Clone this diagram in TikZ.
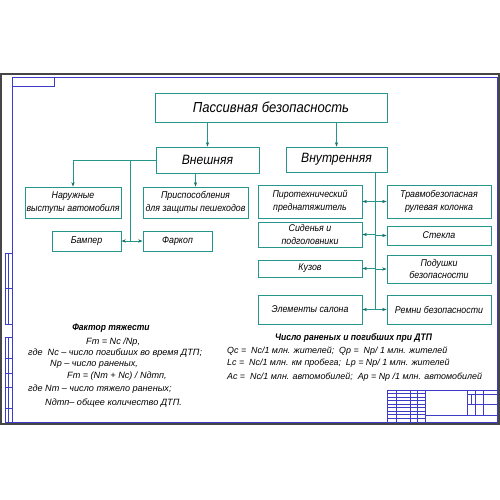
\documentclass[tikz,border=0pt]{standalone}
\usepackage{fontspec}
\setmainfont{Liberation Sans}
\newfontfamily\gost{Liberation Sans}[FakeStretch=0.9]
\usetikzlibrary{arrows.meta}
\definecolor{tealc}{RGB}{38,150,140}
\definecolor{arrc}{RGB}{20,110,105}
\definecolor{framec}{RGB}{60,60,200}
\definecolor{outerc}{RGB}{70,70,70}
\tikzset{
 bx/.style={draw=tealc, line width=0.8pt, inner sep=0pt, align=center, font=\gost\fontsize{9.8}{12.5}\selectfont\itshape},
 arr/.style={draw=tealc, line width=0.8pt, -{Stealth[length=4.5pt,width=3.2pt,color=arrc]}},
 ln/.style={draw=tealc, line width=0.8pt},
 frm/.style={draw=framec, line width=0.8pt},
 thn/.style={draw=framec, line width=0.4pt},
 txt/.style={anchor=west, inner sep=0pt, font=\fontsize{9.1}{10}\selectfont\itshape},
 rtxt/.style={anchor=west, inner sep=0pt, font=\fontsize{8.9}{10}\selectfont\itshape},
 hd/.style={anchor=center, inner sep=0pt, font=\gost\fontsize{9.5}{10}\selectfont\bfseries\itshape},
}
\begin{document}
\begin{tikzpicture}[x=1pt,y=-1pt]
\fill[white] (0,0) rectangle (500,500);
\useasboundingbox (0,0) rectangle (500,500);
% sheet frame
\draw[outerc, line width=1.2pt] (1,74) rectangle (499,424);
\draw[frm] (12,77) rectangle (497,422);
\draw[frm] (12,86) -- (54,86) -- (54,77);
% left strip
\draw[frm] (5,253) rectangle (12,324);
\draw[frm] (5,288) -- (12,288);
\draw[thn] (8,253) -- (8,324);
\draw[frm] (5,337) rectangle (12,422);
\foreach \yy in {358,373,387,408} \draw[frm] (5,\yy) -- (12,\yy);
\draw[thn] (8,337) -- (8,422);
% title block
\draw[frm] (387,390) rectangle (497,422);
\foreach \xx in {396,410,417,425} \draw[thn] (\xx,390) -- (\xx,422);
\draw[frm] (425,390) -- (425,422);
\foreach \yy in {393.5,397,400.5,404,407.5,411,414.5,418} \draw[thn] (387,\yy) -- (425,\yy);
\draw[frm] (387,397) -- (425,397);
\draw[frm] (425,415) -- (497,415);
\draw[frm] (467,390) -- (467,415);
\draw[thn] (475,390) -- (475,415);
\draw[thn] (483,390) -- (483,415);
\draw[thn] (467,394) -- (497,394);
\draw[thn] (467,404) -- (497,404);
\draw[thn] (471,394) -- (471,404);
% boxes
\node[bx, minimum width=232pt, minimum height=29pt, font=\gost\fontsize{14.5}{16}\selectfont\itshape] (main) at (271,107.5) {Пассивная безопасность};
\node[bx, minimum width=103pt, minimum height=26pt, font=\gost\fontsize{13.5}{14}\selectfont\itshape] (ext) at (207.5,160) {Внешняя};
\node[bx, minimum width=101pt, minimum height=25pt, font=\gost\fontsize{13.5}{14}\selectfont\itshape] (int) at (336.5,159.5) {Внутренняя};
\node[bx, minimum width=96pt, minimum height=31pt] (nar) at (73,202.5) {Наружные\\выступы автомобиля};
\node[bx, minimum width=105pt, minimum height=31pt] (pri) at (195.5,202.5) {Приспособления\\для защиты пешеходов};
\node[bx, minimum width=69pt, minimum height=20pt] (bam) at (86.5,241) {Бампер};
\node[bx, minimum width=69pt, minimum height=20pt] (far) at (177.5,241) {Фаркоп};
\node[bx, minimum width=104pt, minimum height=33pt] (pir) at (310,201.5) {Пиротехнический\\преднатяжитель};
\node[bx, minimum width=104pt, minimum height=25pt] (sid) at (310,234.5) {Сиденья и\\подголовники};
\node[bx, minimum width=104pt, minimum height=17pt] (kuz) at (310,268.5) {Кузов};
\node[bx, minimum width=104pt, minimum height=29pt] (ele) at (310,309.5) {Элементы салона};
\node[bx, minimum width=104pt, minimum height=33pt] (trv) at (439,201.5) {Травмобезопасная\\рулевая колонка};
\node[bx, minimum width=104pt, minimum height=19pt] (stk) at (439,235.5) {Стекла};
\node[bx, minimum width=104pt, minimum height=28pt] (pod) at (439,269) {Подушки\\безопасности};
\node[bx, minimum width=104pt, minimum height=29pt] (rem) at (439,309.5) {Ремни безопасности};
% connectors
\draw[arr] (ext.north |- main.south) -- (ext.north);
\draw[arr] (int.north |- main.south) -- (int.north);
\coordinate (j1) at (130,160);
\coordinate (j2) at (130,241);
\draw[ln] (ext.west) -- (nar.north |- ext.west);
\draw[arr] (nar.north |- ext.west) -- (nar.north);
\draw[ln] (j1) -- (j2);
\draw[arr] (j2) -- (bam.east);
\draw[arr] (j2) -- (far.west);
\draw[arr] (pri.north |- ext.south) -- (pri.north);
\coordinate (sp) at (375,172);
\coordinate (sb) at (375,309.5);
\draw[ln] (sp) -- (sb);
\foreach \l/\r in {pir/trv,sid/stk,kuz/pod,ele/rem}{
  \draw[arr] (sp |- \l.east) -- (\l.east);
  \draw[arr] (sp |- \r.west) -- (\r.west);
}
% formulas
\node[hd] (fh) at (111,328) {Фактор тяжести};
\node[txt] (f1) at (86,342) {Fт = Nс /Nр,};
\node[txt] (f2) at (28,353) {где\ \ Nс – число погибших во время ДТП;};
\node[txt] (f3) at (50,364) {Nр – число раненых,};
\node[txt] (f4) at (67,376) {Fт = (Nт + Nс) / Nдтп,};
\node[txt] (f5) at (28,389) {где Nт – число тяжело раненых;};
\node[txt] (f6) at (45,403) {Nдтп– общее количество ДТП.};
\node[hd] (rh) at (353.5,338) {Число раненых и погибших при ДТП};
\node[rtxt] (r1) at (227,351) {Qс = \ Nс/1 млн. жителей; \ Qр = \ Nр/ 1 млн. жителей};
\node[rtxt] (r2) at (227,363) {Lс = \ Nс/1 млн. км пробега; \ Lр = Nр/ 1 млн. жителей};
\node[rtxt] (r3) at (227,377) {Ас = \ Nс/1 млн. автомобилей; \ Ар = Nр /1 млн. автомобилей};
\end{tikzpicture}
\end{document}
